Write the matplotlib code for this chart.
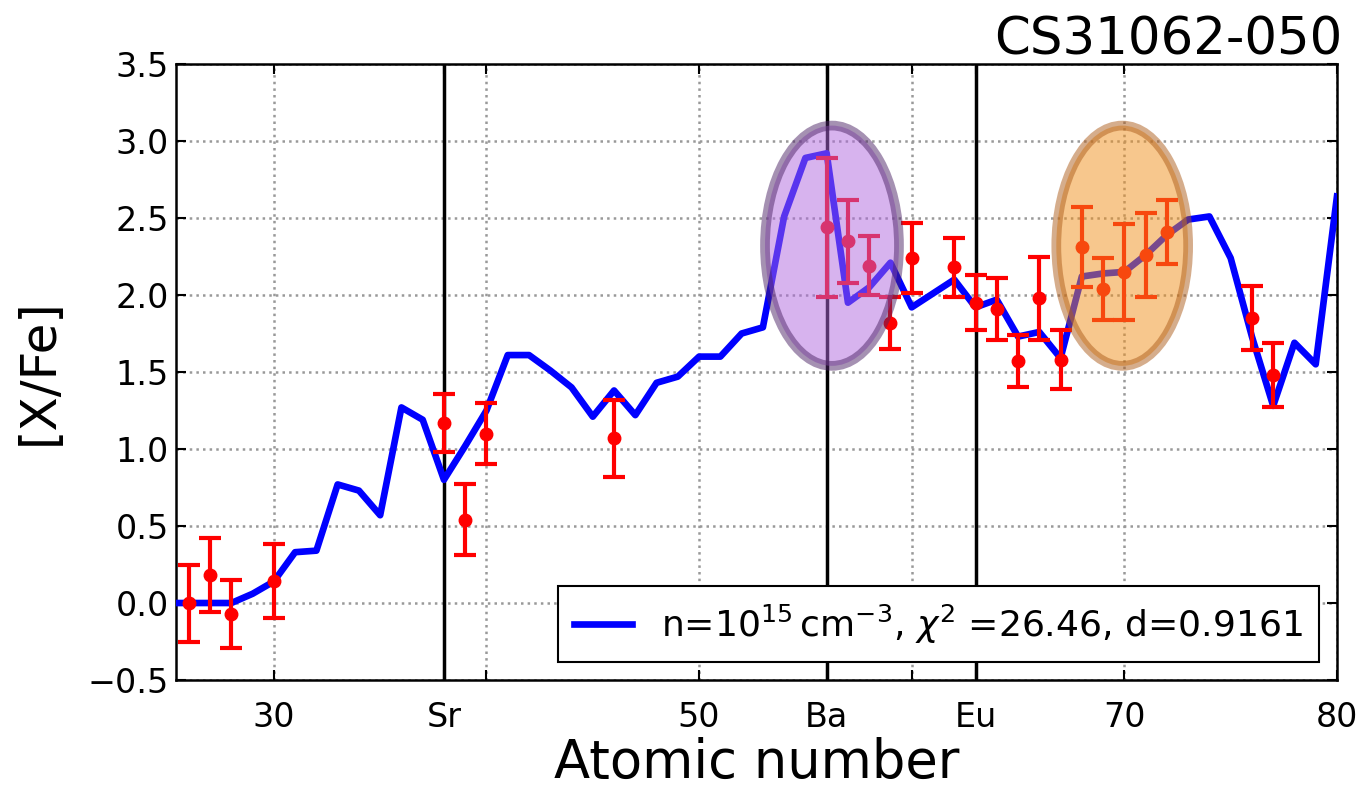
import numpy as np
import matplotlib
matplotlib.use('Agg')
import matplotlib.pyplot as plt
from matplotlib.patches import Ellipse

# model abundance pattern, one value per atomic number
model_z = list(range(25, 81))
model_val = [0.00, 0.00, 0.00, 0.00, 0.06, 0.14, 0.33, 0.34, 0.77, 0.73,
             0.57, 1.27, 1.19, 0.80, 1.02, 1.25, 1.61, 1.61, 1.51, 1.40,
             1.21, 1.38, 1.22, 1.43, 1.47, 1.60, 1.60, 1.75, 1.79, 2.51,
             2.89, 2.92, 1.95, 2.05, 2.21, 1.92, 2.01, 2.10, 1.92, 1.97,
             1.73, 1.76, 1.59, 2.12, 2.14, 2.15, 2.26, 2.39, 2.49, 2.51,
             2.24, 1.73, 1.28, 1.69, 1.55, 2.64]

# observed abundances with errors
obs_z = [26, 27, 28, 30, 38, 39, 40, 46, 56, 57, 58, 59, 60, 62, 63, 64,
         65, 66, 67, 68, 69, 70, 71, 72, 76, 77]
obs_val = [0.00, 0.18, -0.07, 0.14, 1.17, 0.54, 1.10, 1.07, 2.44, 2.35,
           2.19, 1.82, 2.24, 2.18, 1.95, 1.91, 1.57, 1.98, 1.58, 2.31,
           2.04, 2.15, 2.26, 2.41, 1.85, 1.48]
obs_err = [0.25, 0.24, 0.22, 0.24, 0.19, 0.23, 0.20, 0.25, 0.45, 0.27,
           0.19, 0.17, 0.23, 0.19, 0.18, 0.20, 0.17, 0.27, 0.19, 0.26,
           0.20, 0.31, 0.27, 0.21, 0.21, 0.21]

tick_z = [30, 38, 40, 50, 56, 60, 63, 70, 80]
tick_labels = ['30', 'Sr', '', '50', 'Ba', '', 'Eu', '70', '80']
marked_z = [38, 56, 63]

star = 'CS31062-050'
fit_label = r'n=$10^{15}\,\mathrm{cm}^{-3}$, $\chi^2$ =26.46, d=0.9161'

fig = plt.figure(figsize=(13.69, 8.02), dpi=100)
ax = fig.add_axes([0.1286, 0.1521, 0.848, 0.7681])

ax.plot(model_z, model_val, color='b', lw=4.8, label=fit_label, zorder=3)
ax.errorbar(obs_z, obs_val, yerr=obs_err, fmt='o', color='r', ms=9,
            elinewidth=3, capsize=8, capthick=3, zorder=4)

for z in marked_z:
    ax.axvline(z, color='k', lw=2.5, zorder=2)

# highlighted groups of elements
ax.add_patch(Ellipse((56.25, 2.32), 6.3, 1.56, facecolor=(0.69, 0.41, 0.87, 0.5),
                     edgecolor=(0.30, 0.14, 0.40, 0.5), lw=7, zorder=5))
ax.add_patch(Ellipse((69.9, 2.32), 6.2, 1.56, facecolor=(0.94, 0.57, 0.11, 0.5),
                     edgecolor=(0.68, 0.36, 0.10, 0.5), lw=7, zorder=5))

ax.set_xlim(25.4, 80)
ax.set_ylim(-0.5, 3.5)
ax.set_xticks(tick_z)
ax.set_xticklabels(tick_labels)
ax.set_yticks(np.arange(-0.5, 3.51, 0.5))
ax.set_yticklabels(['%.1f' % v if v >= 0 else '\u2212%.1f' % -v
                    for v in np.arange(-0.5, 3.51, 0.5)])
ax.grid(True, color='0.6', linestyle=':', lw=1.8)
ax.set_axisbelow(True)

ax.tick_params(direction='in', length=7, width=1.5, top=True, right=True,
               labelsize=24)
ax.tick_params(axis='x', pad=15)
ax.tick_params(axis='y', pad=5)
for s in ax.spines.values():
    s.set_linewidth(1.8)

ax.set_xlabel('Atomic number', fontsize=38, labelpad=2)
ax.set_ylabel('[X/Fe]', fontsize=36, labelpad=18)
ax.set_title(star, loc='right', fontsize=37, pad=7, x=1.005)

leg = ax.legend(loc='lower right', fontsize=26, fancybox=False,
                edgecolor='k', framealpha=1, borderaxespad=0.5,
                handlelength=1.6, borderpad=0.45)
leg.get_frame().set_linewidth(1.5)

fig.savefig('out.png', dpi=100)
